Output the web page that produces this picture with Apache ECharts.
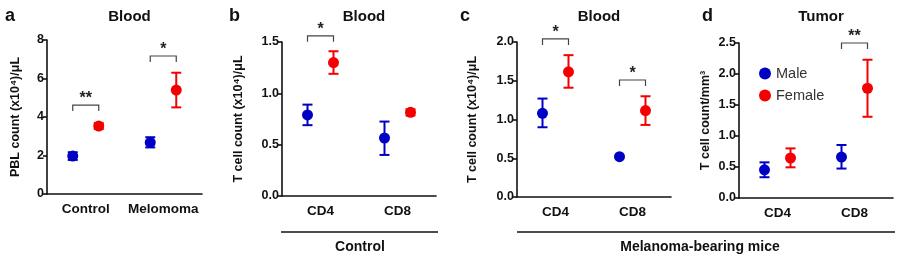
<!DOCTYPE html>
<html>
<head>
<meta charset="utf-8">
<script src="https://cdn.jsdelivr.net/npm/echarts@6/dist/echarts.min.js"></script>
<style>
  html, body { margin: 0; padding: 0; background: #fff; }
  #chart { width: 900px; height: 259px; }
</style>
</head>
<body>
<div id="chart"></div>
<script>
// categories per panel
const catsA = ["Control", "Melomoma"]
const catsCD = ["CD4", "CD8"]

// [categoryIndex, mean, low, high]
const maleA = [[0, 1.97, 1.77, 2.17], [1, 2.68, 2.42, 2.95]]
const femaleA = [[0, 3.53, 3.38, 3.68], [1, 5.4, 4.5, 6.3]]
const maleB = [[0, 0.79, 0.69, 0.89], [1, 0.565, 0.40, 0.725]]
const femaleB = [[0, 1.30, 1.19, 1.41], [1, 0.815, 0.785, 0.845]]
const maleC = [[0, 1.08, 0.90, 1.27], [1, 0.52, 0.52, 0.52]]
const femaleC = [[0, 1.615, 1.41, 1.83], [1, 1.115, 0.93, 1.30]]
const maleD = [[0, 0.455, 0.335, 0.575], [1, 0.66, 0.475, 0.855]]
const femaleD = [[0, 0.645, 0.495, 0.80], [1, 1.77, 1.31, 2.23]]

// significance brackets: [categoryIndex, level, label]
const sigA = [[0, 4.62, "**"], [1, 7.17, "*"]]
const sigB = [[0, 1.56, "*"]]
const sigC = [[0, 2.04, "*"], [1, 1.51, "*"]]
const sigD = [[1, 2.5, "**"]]

// y axis ranges
const yMax = [8, 1.5, 2.0, 2.5]
const yStep = [2, 0.5, 0.5, 0.5]

const titles = ["Blood", "Blood", "Blood", "Tumor"]
const letters = ["a", "b", "c", "d"]
const yNames = ["PBL count (x10⁴)/μL", "T cell count (x10⁴)/μL", "T cell count (x10⁴)/μL", "T cell count/mm³"]

const BLUE = "#0000c4"
const RED = "#f50000"
const FONT = "Liberation Sans, Arial, sans-serif"

const grids = [
  { left: 47, top: 40, width: 155, height: 154 },
  { left: 282, top: 42, width: 154, height: 154 },
  { left: 517, top: 42, width: 154, height: 155 },
  { left: 739, top: 43, width: 154, height: 155 }
]
const nameGaps = [25, 37, 38, 27]

const OFF = 13

function errRender(offset, color) {
  return function (params, api) {
    const c = api.coord([api.value(0), api.value(1)])
    const lo = api.coord([api.value(0), api.value(2)])
    const hi = api.coord([api.value(0), api.value(3)])
    const x = c[0] + offset
    const ls = { stroke: color, lineWidth: 2 }
    const kids = []
    if (Math.abs(lo[1] - hi[1]) > 1) {
      kids.push({ type: "line", shape: { x1: x, y1: hi[1], x2: x, y2: lo[1] }, style: ls })
      kids.push({ type: "line", shape: { x1: x - 5, y1: hi[1], x2: x + 5, y2: hi[1] }, style: ls })
      kids.push({ type: "line", shape: { x1: x - 5, y1: lo[1], x2: x + 5, y2: lo[1] }, style: ls })
    }
    kids.push({ type: "circle", shape: { cx: x, cy: c[1], r: 5.5 }, style: { fill: color } })
    return { type: "group", children: kids }
  }
}

function sigRender(params, api) {
  const p = api.coord([api.value(0), api.value(1)])
  const x1 = p[0] - OFF, x2 = p[0] + OFF, y = p[1]
  return {
    type: "group",
    children: [
      {
        type: "polyline",
        shape: { points: [[x1, y + 6], [x1, y], [x2, y], [x2, y + 6]] },
        style: { stroke: "#444", lineWidth: 1.2, fill: null }
      },
      {
        type: "text",
        style: {
          x: p[0], y: y + 2, text: api.value(2), align: "center", verticalAlign: "bottom",
          font: "bold 16px " + FONT, fill: "#222"
        }
      }
    ]
  }
}

const males = [maleA, maleB, maleC, maleD]
const females = [femaleA, femaleB, femaleC, femaleD]
const sigs = [sigA, sigB, sigC, sigD]

const xAxes = grids.map((g, i) => ({
  type: "category",
  gridIndex: i,
  data: i === 0 ? catsA : catsCD,
  axisLine: { lineStyle: { color: "#111", width: 1.6 } },
  axisTick: { alignWithLabel: true, length: 4, lineStyle: { color: "#111", width: 1.6 } },
  axisLabel: { interval: 0, color: "#111", fontWeight: "bold", fontSize: 13.5, fontFamily: FONT, margin: 8 },
  splitLine: { show: false }
}))

const yAxes = grids.map((g, i) => ({
  type: "value",
  gridIndex: i,
  min: 0,
  max: yMax[i],
  interval: yStep[i],
  name: yNames[i],
  nameLocation: "middle",
  nameGap: nameGaps[i],
  nameTextStyle: { color: "#111", fontWeight: "bold", fontSize: 12.5, fontFamily: FONT },
  axisLine: { show: true, lineStyle: { color: "#111", width: 1.6 } },
  axisTick: { show: true, length: 4, lineStyle: { color: "#111", width: 1.6 } },
  axisLabel: {
    color: "#111", fontWeight: "bold", fontSize: 12.5, fontFamily: FONT, margin: 3,
    formatter: v => (i === 0 ? String(v) : v.toFixed(1))
  },
  splitLine: { show: false }
}))

const series = []
for (let i = 0; i < 4; i++) {
  series.push({
    name: "Male", type: "custom", xAxisIndex: i, yAxisIndex: i,
    itemStyle: { color: BLUE }, renderItem: errRender(-OFF, BLUE), data: males[i], z: 3
  })
  series.push({
    name: "Female", type: "custom", xAxisIndex: i, yAxisIndex: i,
    itemStyle: { color: RED }, renderItem: errRender(OFF, RED), data: females[i], z: 3
  })
  series.push({
    type: "custom", xAxisIndex: i, yAxisIndex: i,
    renderItem: sigRender, data: sigs[i], z: 2
  })
}

const titleOpts = []
grids.forEach((g, i) => {
  titleOpts.push({
    text: titles[i], left: g.left + g.width / 2, top: 4, textAlign: "center",
    textStyle: { fontSize: 15, fontWeight: "bold", color: "#111", fontFamily: FONT }
  })
})
const letterX = [0, 224, 455, 697]
letters.forEach((l, i) => {
  titleOpts.push({
    text: l, left: letterX[i], top: 2,
    textStyle: { fontSize: 18, fontWeight: "bold", color: "#111", fontFamily: FONT }
  })
})

const option = {
  animation: false,
  grid: grids.map(g => Object.assign({ containLabel: false }, g)),
  title: titleOpts,
  legend: {
    data: ["Male", "Female"],
    orient: "vertical",
    left: 754,
    top: 61,
    icon: "circle",
    itemWidth: 12,
    itemHeight: 12,
    itemGap: 7,
    textStyle: { fontSize: 14.5, color: "#333", fontFamily: FONT }
  },
  xAxis: xAxes,
  yAxis: yAxes,
  series: series,
  graphic: [
    { type: "line", shape: { x1: 281, y1: 232, x2: 438, y2: 232 }, style: { stroke: "#111", lineWidth: 1.6 } },
    { type: "text", x: 360, y: 247, style: { text: "Control", align: "center", verticalAlign: "middle", font: "bold 14px " + FONT, fill: "#111" } },
    { type: "line", shape: { x1: 517, y1: 232, x2: 895, y2: 232 }, style: { stroke: "#111", lineWidth: 1.6 } },
    { type: "text", x: 700, y: 247, style: { text: "Melanoma-bearing mice", align: "center", verticalAlign: "middle", font: "bold 14px " + FONT, fill: "#111" } }
  ]
}

const myChart = echarts.init(document.getElementById("chart"))
myChart.setOption(option)
</script>
</body>
</html>
